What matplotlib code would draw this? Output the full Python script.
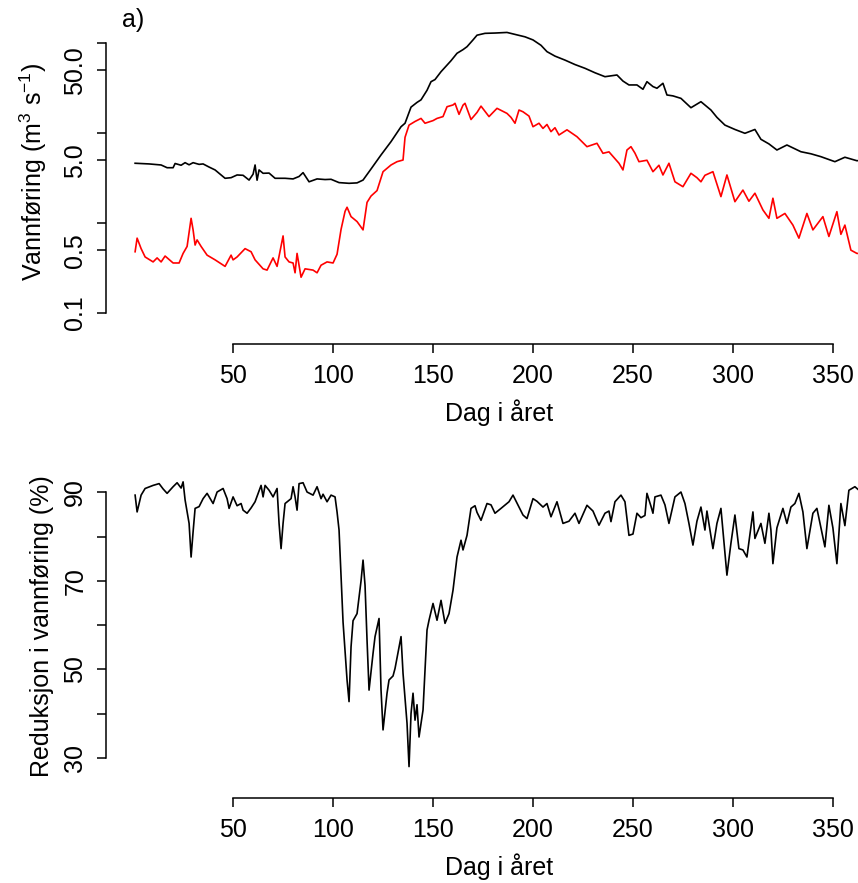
import matplotlib.pyplot as plt
from matplotlib.ticker import NullLocator

plt.rcParams['font.family'] = ['Liberation Sans', 'DejaVu Sans']
plt.rcParams['mathtext.fontset'] = 'custom'
plt.rcParams['mathtext.rm'] = 'Liberation Sans'
plt.rcParams['mathtext.it'] = 'Liberation Sans:italic'

# total discharge (black line)
days_total = [1, 8, 14, 17, 20, 21, 24, 26, 28, 30, 33, 35, 38, 41, 43, 46, 49, 52, 55, 58,
              60, 61, 62, 63, 65, 68, 71, 76, 80, 83, 85, 88, 92, 96, 99, 103, 108, 112, 115, 119,
              124, 129, 134, 136, 139, 142, 144, 147, 149, 151, 154, 159, 162, 165, 167, 170, 172, 176, 181, 187,
              192, 196, 200, 204, 207, 211, 216, 221, 226, 231, 236, 242, 245, 248, 252, 255, 257, 260, 262, 265,
              267, 270, 274, 279, 284, 289, 292, 296, 301, 306, 311, 314, 318, 322, 327, 334, 339, 344, 351, 356,
              362, 365]
flow_total = [4.63, 4.55, 4.43, 4.13, 4.13, 4.6, 4.4, 4.7, 4.45, 4.7, 4.5, 4.55, 4.2, 3.9, 3.58, 3.15, 3.2, 3.43, 3.4, 3.01,
              3.5, 4.43, 3.0, 3.9, 3.58, 3.6, 3.15, 3.15, 3.1, 3.3, 3.64, 2.88, 3.1, 3.05, 3.07, 2.82, 2.77, 2.8, 3.01, 4.0,
              5.73, 8.06, 11.8, 12.9, 19.5, 22.0, 23.5, 30.0, 37.4, 39.5, 48.3, 64.0, 77.4, 85.0, 91.6, 109, 123, 129, 130, 132,
              124, 118, 109, 95, 80.7, 72, 65, 58, 52.7, 47, 42.5, 44.4, 38, 34.4, 34.4, 30.8, 37.4, 33, 31.6, 35.9,
              26.6, 26, 24.4, 19.2, 22.4, 18.1, 15, 12.3, 11, 9.97, 11.0, 8.55, 7.6, 6.5, 7.39, 6.22, 5.9, 5.48, 4.82, 5.4,
              4.94, 5.0]

# remaining discharge (red line)
days_rest = [1, 2, 4, 6, 10, 12, 14, 16, 20, 23, 25, 27, 29, 30, 31, 32, 34, 37, 41, 46,
             49, 50, 52, 56, 59, 61, 65, 67, 70, 72, 75, 76, 78, 80, 81, 82, 84, 86, 90, 92,
             94, 97, 100, 102, 104, 106, 107, 109, 112, 115, 117, 119, 122, 125, 129, 132, 135, 136, 138, 141,
             144, 146, 150, 152, 155, 157, 160, 161, 163, 165, 166, 169, 172, 174, 178, 182, 187, 189, 191, 193,
             195, 198, 200, 203, 205, 207, 209, 211, 213, 217, 222, 227, 232, 235, 238, 243, 245, 247, 249, 251,
             253, 257, 260, 263, 265, 268, 271, 275, 279, 282, 284, 286, 290, 294, 297, 301, 305, 308, 311, 315,
             318, 320, 322, 326, 330, 333, 337, 340, 345, 348, 352, 354, 356, 359, 362, 365]
flow_rest = [0.48, 0.68, 0.52, 0.42, 0.37, 0.41, 0.37, 0.43, 0.36, 0.36, 0.46, 0.55, 1.13, 0.84, 0.57, 0.65, 0.55, 0.44, 0.39, 0.33,
             0.44, 0.39, 0.42, 0.52, 0.48, 0.39, 0.31, 0.30, 0.41, 0.33, 0.72, 0.42, 0.37, 0.36, 0.28, 0.46, 0.25, 0.31, 0.30, 0.28,
             0.34, 0.37, 0.36, 0.45, 0.85, 1.35, 1.5, 1.18, 1.04, 0.84, 1.7, 2.0, 2.3, 3.73, 4.43, 4.82, 5.03, 9.0, 12.3, 13.5,
             14.6, 12.9, 13.8, 14.6, 15.3, 19.7, 20.6, 21.5, 16.2, 20.5, 21.5, 14.2, 17.0, 20.0, 15.3, 18.9, 16.6, 15.0, 12.9, 18.1,
             17.3, 15.5, 11.8, 12.9, 11.3, 12.5, 10.4, 11.5, 9.55, 10.9, 9.14, 7.08, 7.72, 5.97, 6.2, 4.63, 3.9, 6.5, 7.08, 6.0,
             4.82, 5.0, 3.73, 4.4, 3.43, 4.63, 2.88, 2.54, 3.58, 3.2, 2.88, 3.4, 3.73, 1.97, 3.43, 1.73, 2.33, 1.75, 2.15, 1.4,
             1.13, 1.89, 1.13, 1.28, 0.95, 0.68, 1.28, 0.84, 1.18, 0.71, 1.34, 0.75, 0.95, 0.50, 0.46, 0.46]

# reduction in discharge (%)
days_red = [1, 2, 4, 6, 10, 13, 15, 17, 20, 22, 24, 25, 26, 28, 29, 30, 31, 33, 35, 37,
            40, 42, 45, 47, 48, 50, 52, 54, 55, 57, 59, 61, 64, 65, 66, 68, 70, 72, 73, 74,
            75, 76, 79, 80, 81, 82, 83, 85, 87, 90, 92, 94, 95, 97, 99, 101, 102, 103, 104, 105,
            107, 108, 109, 110, 112, 113, 114, 115, 116, 117, 118, 120, 121, 123, 124, 125, 127, 128, 130, 131,
            133, 134, 135, 137, 138, 139, 140, 141, 142, 143, 145, 146, 147, 148, 150, 152, 154, 156, 158, 160,
            162, 164, 165, 167, 169, 171, 172, 174, 177, 179, 181, 184, 188, 190, 193, 195, 197, 200, 202, 205,
            207, 209, 212, 215, 218, 221, 223, 227, 230, 233, 236, 238, 239, 241, 244, 246, 248, 250, 252, 254,
            256, 257, 259, 260, 261, 264, 266, 268, 271, 274, 276, 278, 280, 282, 284, 286, 287, 290, 292, 294,
            296, 297, 299, 301, 302, 303, 305, 307, 310, 311, 314, 316, 318, 319, 320, 322, 325, 327, 329, 331,
            333, 335, 337, 340, 342, 346, 348, 350, 352, 354, 356, 358, 361, 363, 365]
reduction = [89.4, 85.6, 89.4, 90.9, 91.6, 92.0, 90.8, 89.8, 91.3, 92.2, 91.0, 92.4, 88.3, 83.0, 75.4, 81.1, 86.4, 86.8, 88.6, 89.8,
             87.5, 90.1, 90.9, 88.6, 86.4, 89.0, 87.0, 87.5, 86.0, 85.3, 86.5, 87.9, 91.6, 89.0, 91.6, 90.5, 89.0, 90.9, 83.0, 77.3,
             83.0, 87.5, 88.6, 91.3, 89.0, 86.0, 92.0, 92.2, 90.1, 89.4, 91.3, 88.6, 89.6, 87.9, 89.4, 89.0, 85.6, 81.5, 70.9, 60.7,
             47.6, 42.7, 55.1, 61.0, 62.6, 66.4, 70.0, 74.7, 69.0, 56.6, 45.3, 53.6, 57.4, 61.5, 45.3, 36.3, 44.6, 47.6, 48.5, 50.2,
             55.0, 57.4, 49.1, 37.8, 28.0, 40.0, 44.6, 38.5, 42.0, 34.7, 40.8, 49.8, 58.9, 61.1, 64.9, 61.1, 65.6, 60.4, 62.6, 67.9,
             75.4, 79.2, 77.0, 80.3, 86.4, 87.0, 85.5, 83.7, 87.5, 87.2, 85.3, 86.4, 87.9, 89.4, 86.7, 84.9, 84.1, 88.6, 88.0, 86.7,
             87.5, 84.5, 87.9, 83.0, 83.5, 85.3, 83.0, 87.1, 85.8, 82.6, 85.3, 85.8, 83.4, 87.9, 89.4, 87.9, 80.3, 80.6, 85.3, 84.3,
             84.8, 89.8, 86.9, 85.3, 89.0, 89.4, 87.2, 83.0, 89.0, 90.1, 87.5, 83.0, 78.1, 83.5, 86.7, 81.5, 85.8, 77.3, 83.0, 86.4,
             76.2, 71.3, 78.5, 84.9, 81.0, 77.3, 77.0, 75.4, 85.6, 79.6, 83.0, 78.5, 85.3, 81.5, 73.9, 82.0, 86.4, 83.0, 86.7, 87.5,
             89.8, 85.6, 77.3, 85.3, 86.4, 77.7, 87.1, 82.0, 73.9, 87.5, 82.5, 90.5, 91.3, 90.5, 90.8]

x_ticks = [50, 100, 150, 200, 250, 300, 350]
top_ticks = [0.1, 0.5, 1, 5, 10, 50, 100]
top_tick_labels = ['0.1', '0.5', '', '5.0', '', '50.0', '']
bottom_ticks = [30, 40, 50, 60, 70, 80, 90]
bottom_tick_labels = ['30', '', '50', '', '70', '', '90']

W, H = 858, 883
fig = plt.figure(figsize=(W / 100, H / 100), dpi=100)
# plot regions run past the right edge of the picture, as in the original
ax1 = fig.add_axes([106 / W, 1 - 344 / H, 786 / W, 344 / H])
ax2 = fig.add_axes([106 / W, 1 - 798 / H, 786 / W, 344 / H])

ax1.plot(days_total, flow_total, color='black', lw=1.2)
ax1.plot(days_rest, flow_rest, color='red', lw=1.2)
ax1.set_yscale('log')
ax1.set_ylim(0.0452, 303)

ax2.plot(days_red, reduction, color='black', lw=1.2)
ax2.set_ylim(20.9, 98.7)

for ax in (ax1, ax2):
    ax.set_xlim(-13.56, 379.56)
    ax.set_xticks(x_ticks)
    ax.spines['top'].set_visible(False)
    ax.spines['right'].set_visible(False)
    ax.spines['bottom'].set_bounds(50, 350)
    for s in ('left', 'bottom'):
        ax.spines[s].set_linewidth(1.1)
    ax.tick_params(direction='out', length=6.5, width=1.1, labelsize=18, colors='black')
    ax.tick_params(axis='x', pad=8)
    ax.tick_params(axis='y', pad=7, labelrotation=90)
    ax.set_xlabel('Dag i året', fontsize=18)
    ax.xaxis.set_label_coords(0.5, -0.2, transform=ax.transAxes)
    ax.xaxis.label.set_va('center')

ax1.yaxis.set_minor_locator(NullLocator())
ax1.set_yticks(top_ticks, top_tick_labels)
ax1.spines['left'].set_bounds(0.1, 100)
ax2.set_yticks(bottom_ticks, bottom_tick_labels)
ax2.spines['left'].set_bounds(30, 90)
for ax in (ax1, ax2):
    for lab in ax.get_yticklabels():
        lab.set_va('center')

ax1.set_ylabel('Vannføring (m$^{3}$ s$^{-1}$)', fontsize=18)
ax1.yaxis.set_label_coords(-0.093, 0.5)
ax1.yaxis.label.set_va('center')
ax2.set_ylabel('Reduksjon i vannføring (%)', fontsize=18)
ax2.yaxis.set_label_coords(-0.0814, 0.5)
ax2.yaxis.label.set_va('center')

fig.text(122 / W, 1 - 27 / H, 'a)', fontsize=18, ha='left', va='baseline')

fig.savefig('out.png', dpi=100)
